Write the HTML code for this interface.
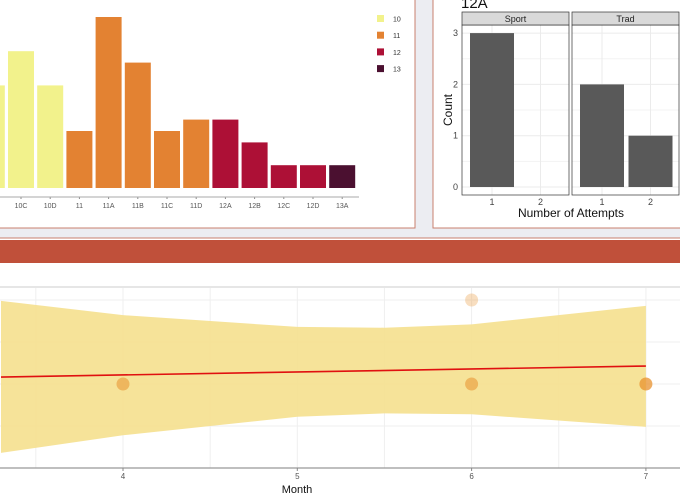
<!DOCTYPE html>
<html><head><meta charset="utf-8"><style>
body{margin:0;width:680px;height:500px;overflow:hidden;background:#ecedf2;font-family:"Liberation Sans",sans-serif}
svg{position:absolute;left:0;top:0}
</style></head><body>
<svg width="680" height="500">
<rect x="-2" y="-2" width="417" height="230" fill="#fff" stroke="#c9806f"/>
<rect x="433" y="-2" width="250" height="230" fill="#fff" stroke="#c9806f"/>
<rect x="-2" y="238" width="690" height="270" fill="#fff" stroke="#c9806f"/>
<rect x="0" y="240" width="680" height="23" fill="#c0503a"/>
<g id="bar"></g>
<g id="fac"></g>
<g id="trend"></g>
</svg>
<script>
const NS='http://www.w3.org/2000/svg';
function mk(p,t,a,txt){const e=document.createElementNS(NS,t);for(const k in a)e.setAttribute(k,a[k]);if(txt!=null)e.textContent=txt;p.appendChild(e);return e;}

// ---- Bar chart data
const grades=['10B','10C','10D','11','11A','11B','11C','11D','12A','12B','12C','12D','13A'];
const counts=[9,12,9,5,15,11,5,6,6,4,2,2,2];
const groups=['10','10','10','11','11','11','11','11','12','12','12','12','13'];
const legendKeys=['10','11','12','13'];
const legendColors=['#f2f28c','#e38232','#ad1036','#4b1030'];
const bar=document.getElementById('bar');
const bx=i=>-21.2+i*29.2, bBase=188, bUnit=11.4;
grades.forEach((g,i)=>{
  const c=legendColors[legendKeys.indexOf(groups[i])];
  const r=mk(bar,'rect',{x:bx(i),y:bBase-counts[i]*bUnit,width:26,height:counts[i]*bUnit,fill:c});
  
  
  if(i>0){
    mk(bar,'line',{x1:bx(i)+13,x2:bx(i)+13,y1:197,y2:199,stroke:'#888'});
    const t=mk(bar,'text',{x:bx(i)+13,y:208,'font-size':7,fill:'#555','text-anchor':'middle'},g);
    
    
  }
});
mk(bar,'line',{x1:0,x2:359,y1:197,y2:197,stroke:'#aaa'});
legendKeys.forEach((k,i)=>{
  const y=15+i*16.7;
  const r=mk(bar,'rect',{x:377,y:y,width:7,height:7,fill:legendColors[i]});
  
  
  const t=mk(bar,'text',{x:393,y:y+6.5,'font-size':7,fill:'#333'},k);
  
  
});

// ---- Facet chart data
const facets=['Sport','Trad'];
const attempts=[1,2];
const facetCounts=[[3,0],[2,1]];
const yTicks=[0,1,2,3];
const fac=document.getElementById('fac');
const fy=v=>187-v*51.3;
const facX=[462,572];
const t0=mk(fac,'text',{x:461,y:8,'font-size':15,fill:'#111'},'12A');


facets.forEach((f,fi)=>{
  const x0=facX[fi], w=107;
  const fxp=a=>x0+30+(a-1)*48.5;
  mk(fac,'rect',{x:x0,y:25,width:w,height:170,fill:'#fff'});
  [0.5,1.5,2.5].forEach(v=>mk(fac,'line',{x1:x0,x2:x0+w,y1:fy(v),y2:fy(v),stroke:'#f3f3f3'}));
  yTicks.forEach(v=>mk(fac,'line',{x1:x0,x2:x0+w,y1:fy(v),y2:fy(v),stroke:'#ebebeb'}));
  attempts.forEach(a=>mk(fac,'line',{x1:fxp(a),x2:fxp(a),y1:25,y2:195,stroke:'#ebebeb'}));
  attempts.forEach((a,ai)=>{
    const v=facetCounts[fi][ai];
    if(v>0){const r=mk(fac,'rect',{x:fxp(a)-22,y:fy(v),width:44,height:v*51.3,fill:'#595959'});
    
    }
    const t=mk(fac,'text',{x:fxp(a),y:205,'font-size':9,fill:'#444','text-anchor':'middle'},a);
    
    
  });
  mk(fac,'rect',{x:x0,y:25,width:w,height:170,fill:'none',stroke:'#333','stroke-width':0.7});
  const s=mk(fac,'rect',{x:x0,y:12,width:w,height:13,fill:'#d9d9d9',stroke:'#333','stroke-width':0.7});
  
  
  mk(fac,'text',{x:x0+w/2,y:22,'font-size':9,fill:'#222','text-anchor':'middle'},f);
});
yTicks.forEach(v=>{
  const t=mk(fac,'text',{x:458,y:fy(v)+3,'font-size':9,fill:'#444','text-anchor':'end'},v);
  
  
});
const xt=mk(fac,'text',{x:571,y:217,'font-size':12,fill:'#111','text-anchor':'middle'},'Number of Attempts');


const yt=mk(fac,'text',{x:452,y:110,'font-size':12,fill:'#111','text-anchor':'middle',transform:'rotate(-90 452 110)'},'Count');



// ---- Trend chart data
const ptMonths=[4,6,6,7];
const ptValues=[1,1,2,1];
const ptAlpha=[0.55,0.55,0.3,0.75];
const bandMonths=[3.3,4,5,5.5,6,7];
const bandUpper=[1.99,1.82,1.68,1.67,1.71,1.93];
const bandLower=[0.18,0.39,0.61,0.65,0.64,0.49];
const fitMonths=[3.3,7];
const fitValues=[1.083,1.214];
const monthTicks=[4,5,6,7];
const tr=document.getElementById('trend');
const mx=m=>123+(m-4)*174.3, my=v=>384-(v-1)*84;
mk(tr,'line',{x1:0,x2:680,y1:287,y2:287,stroke:'#ccc'});
[3.5,4,4.5,5,5.5,6,6.5,7].forEach(m=>mk(tr,'line',{x1:mx(m),x2:mx(m),y1:288,y2:468,stroke:'#efefef'}));
[0.5,1,1.5,2].forEach(v=>mk(tr,'line',{x1:0,x2:680,y1:my(v),y2:my(v),stroke:'#efefef'}));
let d='M'+bandMonths.map((m,i)=>mx(m)+','+my(bandUpper[i])).join(' L');
for(let i=bandMonths.length-1;i>=0;i--)d+=' L'+mx(bandMonths[i])+','+my(bandLower[i]);
const band=mk(tr,'path',{d:d+'Z',fill:'#f5e08e',opacity:0.9});


const fit=mk(tr,'line',{x1:mx(fitMonths[0]),y1:my(fitValues[0]),x2:mx(fitMonths[1]),y2:my(fitValues[1]),stroke:'#e01010','stroke-width':1.6});


ptMonths.forEach((m,i)=>{
  const c=mk(tr,'ellipse',{cx:mx(m),cy:my(ptValues[i]),rx:6.5,ry:6.5,fill:'#e8912d','fill-opacity':ptAlpha[i]});
  
  
});
mk(tr,'line',{x1:0,x2:680,y1:468,y2:468,stroke:'#999','stroke-width':1.2});
monthTicks.forEach(m=>{
  mk(tr,'line',{x1:mx(m),x2:mx(m),y1:468,y2:471,stroke:'#888'});
  const t=mk(tr,'text',{x:mx(m),y:479,'font-size':8,fill:'#555','text-anchor':'middle'},m);
  
  
});
const mt=mk(tr,'text',{x:297,y:493,'font-size':11,fill:'#111','text-anchor':'middle'},'Month');


</script>
</body></html>
